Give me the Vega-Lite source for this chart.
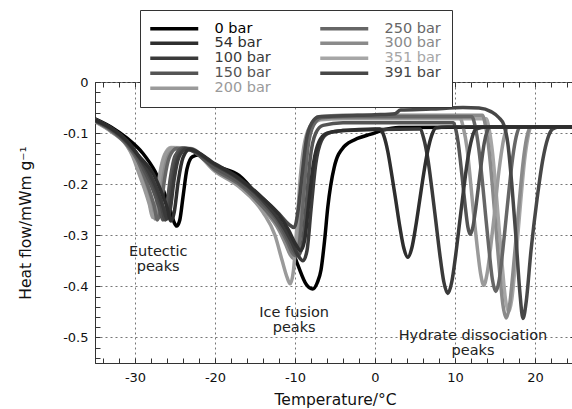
{
"$schema": "https://vega.github.io/schema/vega-lite/v6.json",
"width": 480, "height": 281,
"autosize": {"type": "none"},
"padding": {"left": 95, "top": 82, "right": 0, "bottom": 46},
"background": "white",
"config": {"view": {"stroke": "#333", "strokeWidth": 1}, "font": "DejaVu Sans"},
"resolve": {"axis": {"x": "independent", "y": "independent"}},
"data": {"values": [
{"p":"0 bar","t":-35,"h":-0.072},{"p":"0 bar","t":-33,"h":-0.088},{"p":"0 bar","t":-31,"h":-0.11},{"p":"0 bar","t":-29,"h":-0.14},{"p":"0 bar","t":-27.5,"h":-0.175},{"p":"0 bar","t":-26.5,"h":-0.21},{"p":"0 bar","t":-25.6,"h":-0.25},{"p":"0 bar","t":-25.1,"h":-0.275},{"p":"0 bar","t":-24.8,"h":-0.282},{"p":"0 bar","t":-24.4,"h":-0.27},{"p":"0 bar","t":-24,"h":-0.225},{"p":"0 bar","t":-23.5,"h":-0.17},{"p":"0 bar","t":-22.8,"h":-0.146},{"p":"0 bar","t":-22,"h":-0.143},{"p":"0 bar","t":-20,"h":-0.163},{"p":"0 bar","t":-17,"h":-0.183},{"p":"0 bar","t":-14,"h":-0.237},{"p":"0 bar","t":-12,"h":-0.283},{"p":"0 bar","t":-10.5,"h":-0.323},{"p":"0 bar","t":-9.6,"h":-0.36},{"p":"0 bar","t":-8.6,"h":-0.396},{"p":"0 bar","t":-7.8,"h":-0.405},{"p":"0 bar","t":-7.2,"h":-0.392},{"p":"0 bar","t":-6.75,"h":-0.368},{"p":"0 bar","t":-6.3,"h":-0.31},{"p":"0 bar","t":-5.9,"h":-0.245},{"p":"0 bar","t":-5.1,"h":-0.167},{"p":"0 bar","t":-3.9,"h":-0.127},{"p":"0 bar","t":-2.1,"h":-0.11},{"p":"0 bar","t":-0.5,"h":-0.102},{"p":"0 bar","t":1,"h":-0.094},{"p":"0 bar","t":3,"h":-0.089},{"p":"0 bar","t":25,"h":-0.088},
{"p":"351 bar","t":-35,"h":-0.074},{"p":"351 bar","t":-33,"h":-0.093},{"p":"351 bar","t":-31,"h":-0.12},{"p":"351 bar","t":-30.2,"h":-0.142},{"p":"351 bar","t":-29.5,"h":-0.172},{"p":"351 bar","t":-28.8,"h":-0.205},{"p":"351 bar","t":-28.2,"h":-0.235},{"p":"351 bar","t":-27.8,"h":-0.26},{"p":"351 bar","t":-27.4,"h":-0.24},{"p":"351 bar","t":-26.9,"h":-0.18},{"p":"351 bar","t":-26.3,"h":-0.142},{"p":"351 bar","t":-25.5,"h":-0.128},{"p":"351 bar","t":-23,"h":-0.13},{"p":"351 bar","t":-20,"h":-0.17},{"p":"351 bar","t":-17,"h":-0.198},{"p":"351 bar","t":-14,"h":-0.242},{"p":"351 bar","t":-12,"h":-0.28},{"p":"351 bar","t":-10.9,"h":-0.315},{"p":"351 bar","t":-10.4,"h":-0.33},{"p":"351 bar","t":-10,"h":-0.335},{"p":"351 bar","t":-9.5,"h":-0.3},{"p":"351 bar","t":-9,"h":-0.21},{"p":"351 bar","t":-8.5,"h":-0.125},{"p":"351 bar","t":-7.8,"h":-0.085},{"p":"351 bar","t":-6.8,"h":-0.074},{"p":"351 bar","t":-4,"h":-0.072},{"p":"351 bar","t":13.9,"h":-0.072},{"p":"351 bar","t":14.3,"h":-0.095},{"p":"351 bar","t":14.7,"h":-0.14},{"p":"351 bar","t":15.1,"h":-0.208},{"p":"351 bar","t":15.5,"h":-0.284},{"p":"351 bar","t":15.9,"h":-0.359},{"p":"351 bar","t":16.3,"h":-0.424},{"p":"351 bar","t":16.7,"h":-0.45},{"p":"351 bar","t":17.1,"h":-0.425},{"p":"351 bar","t":17.5,"h":-0.363},{"p":"351 bar","t":17.9,"h":-0.291},{"p":"351 bar","t":18.3,"h":-0.218},{"p":"351 bar","t":18.7,"h":-0.153},{"p":"351 bar","t":19.1,"h":-0.11},{"p":"351 bar","t":19.5,"h":-0.088},{"p":"351 bar","t":25,"h":-0.088},
{"p":"300 bar","t":-35,"h":-0.077},{"p":"300 bar","t":-33,"h":-0.096},{"p":"300 bar","t":-31,"h":-0.124},{"p":"300 bar","t":-30.1,"h":-0.148},{"p":"300 bar","t":-29.3,"h":-0.178},{"p":"300 bar","t":-28.5,"h":-0.212},{"p":"300 bar","t":-27.9,"h":-0.243},{"p":"300 bar","t":-27.5,"h":-0.268},{"p":"300 bar","t":-27.1,"h":-0.248},{"p":"300 bar","t":-26.6,"h":-0.188},{"p":"300 bar","t":-26,"h":-0.146},{"p":"300 bar","t":-25.2,"h":-0.13},{"p":"300 bar","t":-23,"h":-0.132},{"p":"300 bar","t":-20,"h":-0.173},{"p":"300 bar","t":-17,"h":-0.202},{"p":"300 bar","t":-14,"h":-0.248},{"p":"300 bar","t":-12,"h":-0.29},{"p":"300 bar","t":-11.1,"h":-0.32},{"p":"300 bar","t":-10.6,"h":-0.338},{"p":"300 bar","t":-10.2,"h":-0.345},{"p":"300 bar","t":-9.7,"h":-0.315},{"p":"300 bar","t":-9.2,"h":-0.225},{"p":"300 bar","t":-8.7,"h":-0.135},{"p":"300 bar","t":-8,"h":-0.085},{"p":"300 bar","t":-7,"h":-0.068},{"p":"300 bar","t":-4,"h":-0.065},{"p":"300 bar","t":13.42,"h":-0.065},{"p":"300 bar","t":13.85,"h":-0.089},{"p":"300 bar","t":14.27,"h":-0.136},{"p":"300 bar","t":14.7,"h":-0.208},{"p":"300 bar","t":15.12,"h":-0.287},{"p":"300 bar","t":15.55,"h":-0.367},{"p":"300 bar","t":15.97,"h":-0.434},{"p":"300 bar","t":16.4,"h":-0.462},{"p":"300 bar","t":16.83,"h":-0.436},{"p":"300 bar","t":17.25,"h":-0.372},{"p":"300 bar","t":17.68,"h":-0.297},{"p":"300 bar","t":18.1,"h":-0.223},{"p":"300 bar","t":18.53,"h":-0.155},{"p":"300 bar","t":18.95,"h":-0.11},{"p":"300 bar","t":19.4,"h":-0.088},{"p":"300 bar","t":25,"h":-0.088},
{"p":"200 bar","t":-35,"h":-0.078},{"p":"200 bar","t":-33,"h":-0.097},{"p":"200 bar","t":-31,"h":-0.125},{"p":"200 bar","t":-30.3,"h":-0.145},{"p":"200 bar","t":-29.6,"h":-0.175},{"p":"200 bar","t":-28.8,"h":-0.21},{"p":"200 bar","t":-28.2,"h":-0.24},{"p":"200 bar","t":-27.8,"h":-0.265},{"p":"200 bar","t":-27.4,"h":-0.245},{"p":"200 bar","t":-26.9,"h":-0.185},{"p":"200 bar","t":-26.3,"h":-0.145},{"p":"200 bar","t":-25.5,"h":-0.13},{"p":"200 bar","t":-23,"h":-0.133},{"p":"200 bar","t":-20,"h":-0.175},{"p":"200 bar","t":-17,"h":-0.205},{"p":"200 bar","t":-14,"h":-0.255},{"p":"200 bar","t":-12.5,"h":-0.3},{"p":"200 bar","t":-11.6,"h":-0.35},{"p":"200 bar","t":-11,"h":-0.382},{"p":"200 bar","t":-10.6,"h":-0.395},{"p":"200 bar","t":-10.2,"h":-0.37},{"p":"200 bar","t":-9.8,"h":-0.29},{"p":"200 bar","t":-9.3,"h":-0.18},{"p":"200 bar","t":-8.6,"h":-0.105},{"p":"200 bar","t":-7.6,"h":-0.078},{"p":"200 bar","t":-6,"h":-0.071},{"p":"200 bar","t":10.6,"h":-0.07},{"p":"200 bar","t":11.05,"h":-0.09},{"p":"200 bar","t":11.5,"h":-0.129},{"p":"200 bar","t":11.9,"h":-0.188},{"p":"200 bar","t":12.3,"h":-0.254},{"p":"200 bar","t":12.75,"h":-0.319},{"p":"200 bar","t":13.2,"h":-0.375},{"p":"200 bar","t":13.6,"h":-0.398},{"p":"200 bar","t":14,"h":-0.376},{"p":"200 bar","t":14.45,"h":-0.324},{"p":"200 bar","t":14.9,"h":-0.262},{"p":"200 bar","t":15.3,"h":-0.2},{"p":"200 bar","t":15.75,"h":-0.144},{"p":"200 bar","t":16.15,"h":-0.107},{"p":"200 bar","t":16.6,"h":-0.088},{"p":"200 bar","t":25,"h":-0.088},
{"p":"250 bar","t":-35,"h":-0.076},{"p":"250 bar","t":-33,"h":-0.095},{"p":"250 bar","t":-31,"h":-0.123},{"p":"250 bar","t":-29.8,"h":-0.15},{"p":"250 bar","t":-29,"h":-0.178},{"p":"250 bar","t":-28.2,"h":-0.212},{"p":"250 bar","t":-27.6,"h":-0.243},{"p":"250 bar","t":-27.2,"h":-0.27},{"p":"250 bar","t":-26.8,"h":-0.25},{"p":"250 bar","t":-26.3,"h":-0.19},{"p":"250 bar","t":-25.7,"h":-0.147},{"p":"250 bar","t":-24.8,"h":-0.13},{"p":"250 bar","t":-23,"h":-0.131},{"p":"250 bar","t":-20,"h":-0.172},{"p":"250 bar","t":-17,"h":-0.2},{"p":"250 bar","t":-14,"h":-0.245},{"p":"250 bar","t":-12,"h":-0.283},{"p":"250 bar","t":-10.9,"h":-0.315},{"p":"250 bar","t":-10.3,"h":-0.335},{"p":"250 bar","t":-9.9,"h":-0.34},{"p":"250 bar","t":-9.4,"h":-0.31},{"p":"250 bar","t":-8.9,"h":-0.22},{"p":"250 bar","t":-8.4,"h":-0.13},{"p":"250 bar","t":-7.7,"h":-0.085},{"p":"250 bar","t":-6.7,"h":-0.07},{"p":"250 bar","t":-4,"h":-0.068},{"p":"250 bar","t":12.1,"h":-0.068},{"p":"250 bar","t":12.55,"h":-0.089},{"p":"250 bar","t":12.97,"h":-0.13},{"p":"250 bar","t":13.4,"h":-0.191},{"p":"250 bar","t":13.82,"h":-0.26},{"p":"250 bar","t":14.25,"h":-0.328},{"p":"250 bar","t":14.67,"h":-0.386},{"p":"250 bar","t":15.1,"h":-0.41},{"p":"250 bar","t":15.53,"h":-0.387},{"p":"250 bar","t":15.95,"h":-0.333},{"p":"250 bar","t":16.38,"h":-0.268},{"p":"250 bar","t":16.8,"h":-0.204},{"p":"250 bar","t":17.23,"h":-0.146},{"p":"250 bar","t":17.65,"h":-0.107},{"p":"250 bar","t":18.1,"h":-0.088},{"p":"250 bar","t":25,"h":-0.088},
{"p":"150 bar","t":-35,"h":-0.076},{"p":"150 bar","t":-33,"h":-0.093},{"p":"150 bar","t":-31,"h":-0.12},{"p":"150 bar","t":-30,"h":-0.14},{"p":"150 bar","t":-28.7,"h":-0.178},{"p":"150 bar","t":-27.7,"h":-0.213},{"p":"150 bar","t":-27,"h":-0.245},{"p":"150 bar","t":-26.5,"h":-0.27},{"p":"150 bar","t":-26.1,"h":-0.252},{"p":"150 bar","t":-25.6,"h":-0.19},{"p":"150 bar","t":-25,"h":-0.145},{"p":"150 bar","t":-24,"h":-0.129},{"p":"150 bar","t":-20,"h":-0.168},{"p":"150 bar","t":-17,"h":-0.196},{"p":"150 bar","t":-14,"h":-0.238},{"p":"150 bar","t":-12,"h":-0.275},{"p":"150 bar","t":-10.8,"h":-0.31},{"p":"150 bar","t":-10.1,"h":-0.332},{"p":"150 bar","t":-9.6,"h":-0.34},{"p":"150 bar","t":-9.1,"h":-0.32},{"p":"150 bar","t":-8.6,"h":-0.24},{"p":"150 bar","t":-8.1,"h":-0.15},{"p":"150 bar","t":-7.4,"h":-0.1},{"p":"150 bar","t":-6.5,"h":-0.085},{"p":"150 bar","t":-4,"h":-0.08},{"p":"150 bar","t":9.8,"h":-0.08},{"p":"150 bar","t":10.1,"h":-0.093},{"p":"150 bar","t":10.4,"h":-0.119},{"p":"150 bar","t":10.7,"h":-0.158},{"p":"150 bar","t":11,"h":-0.202},{"p":"150 bar","t":11.3,"h":-0.246},{"p":"150 bar","t":11.6,"h":-0.283},{"p":"150 bar","t":11.9,"h":-0.298},{"p":"150 bar","t":12.25,"h":-0.283},{"p":"150 bar","t":12.6,"h":-0.246},{"p":"150 bar","t":12.95,"h":-0.202},{"p":"150 bar","t":13.3,"h":-0.158},{"p":"150 bar","t":13.65,"h":-0.12},{"p":"150 bar","t":14,"h":-0.097},{"p":"150 bar","t":14.4,"h":-0.088},{"p":"150 bar","t":25,"h":-0.088},
{"p":"391 bar","t":-35,"h":-0.073},{"p":"391 bar","t":-33,"h":-0.09},{"p":"391 bar","t":-31,"h":-0.116},{"p":"391 bar","t":-29.8,"h":-0.14},{"p":"391 bar","t":-28.4,"h":-0.178},{"p":"391 bar","t":-27.4,"h":-0.212},{"p":"391 bar","t":-26.7,"h":-0.243},{"p":"391 bar","t":-26.2,"h":-0.27},{"p":"391 bar","t":-25.8,"h":-0.25},{"p":"391 bar","t":-25.3,"h":-0.19},{"p":"391 bar","t":-24.7,"h":-0.147},{"p":"391 bar","t":-23.8,"h":-0.13},{"p":"391 bar","t":-20,"h":-0.162},{"p":"391 bar","t":-17,"h":-0.19},{"p":"391 bar","t":-14,"h":-0.228},{"p":"391 bar","t":-12,"h":-0.258},{"p":"391 bar","t":-10.8,"h":-0.278},{"p":"391 bar","t":-10.1,"h":-0.285},{"p":"391 bar","t":-9.6,"h":-0.25},{"p":"391 bar","t":-9.1,"h":-0.18},{"p":"391 bar","t":-8.6,"h":-0.115},{"p":"391 bar","t":-7.9,"h":-0.08},{"p":"391 bar","t":-7,"h":-0.068},{"p":"391 bar","t":-4,"h":-0.066},{"p":"391 bar","t":0,"h":-0.064},{"p":"391 bar","t":2.5,"h":-0.062},{"p":"391 bar","t":3.2,"h":-0.055},{"p":"391 bar","t":7,"h":-0.053},{"p":"391 bar","t":11,"h":-0.05},{"p":"391 bar","t":13,"h":-0.051},{"p":"391 bar","t":14.5,"h":-0.058},{"p":"391 bar","t":15.5,"h":-0.07},{"p":"391 bar","t":16.1,"h":-0.084},{"p":"391 bar","t":16.6,"h":-0.12},{"p":"391 bar","t":17.1,"h":-0.2},{"p":"391 bar","t":17.6,"h":-0.3},{"p":"391 bar","t":18.1,"h":-0.41},{"p":"391 bar","t":18.5,"h":-0.463},{"p":"391 bar","t":18.9,"h":-0.43},{"p":"391 bar","t":19.5,"h":-0.33},{"p":"391 bar","t":20.25,"h":-0.23},{"p":"391 bar","t":21,"h":-0.15},{"p":"391 bar","t":21.6,"h":-0.11},{"p":"391 bar","t":22.2,"h":-0.092},{"p":"391 bar","t":23,"h":-0.088},{"p":"391 bar","t":25,"h":-0.088},
{"p":"100 bar","t":-35,"h":-0.075},{"p":"100 bar","t":-33,"h":-0.091},{"p":"100 bar","t":-31,"h":-0.117},{"p":"100 bar","t":-29.8,"h":-0.14},{"p":"100 bar","t":-28.2,"h":-0.178},{"p":"100 bar","t":-27.2,"h":-0.212},{"p":"100 bar","t":-26.5,"h":-0.243},{"p":"100 bar","t":-26,"h":-0.268},{"p":"100 bar","t":-25.6,"h":-0.25},{"p":"100 bar","t":-25.1,"h":-0.19},{"p":"100 bar","t":-24.5,"h":-0.147},{"p":"100 bar","t":-23.5,"h":-0.13},{"p":"100 bar","t":-20,"h":-0.162},{"p":"100 bar","t":-17,"h":-0.19},{"p":"100 bar","t":-14,"h":-0.232},{"p":"100 bar","t":-12,"h":-0.27},{"p":"100 bar","t":-10.5,"h":-0.31},{"p":"100 bar","t":-9.6,"h":-0.34},{"p":"100 bar","t":-9,"h":-0.35},{"p":"100 bar","t":-8.5,"h":-0.33},{"p":"100 bar","t":-8,"h":-0.25},{"p":"100 bar","t":-7.4,"h":-0.16},{"p":"100 bar","t":-6.7,"h":-0.115},{"p":"100 bar","t":-5.8,"h":-0.1},{"p":"100 bar","t":-4,"h":-0.095},{"p":"100 bar","t":0,"h":-0.093},{"p":"100 bar","t":5.6,"h":-0.092},{"p":"100 bar","t":6.1,"h":-0.111},{"p":"100 bar","t":6.6,"h":-0.15},{"p":"100 bar","t":7.1,"h":-0.208},{"p":"100 bar","t":7.6,"h":-0.272},{"p":"100 bar","t":8.1,"h":-0.337},{"p":"100 bar","t":8.6,"h":-0.391},{"p":"100 bar","t":9.1,"h":-0.414},{"p":"100 bar","t":9.6,"h":-0.391},{"p":"100 bar","t":10.1,"h":-0.337},{"p":"100 bar","t":10.6,"h":-0.272},{"p":"100 bar","t":11.1,"h":-0.208},{"p":"100 bar","t":11.6,"h":-0.15},{"p":"100 bar","t":12.1,"h":-0.111},{"p":"100 bar","t":12.6,"h":-0.092},{"p":"100 bar","t":14,"h":-0.088},{"p":"100 bar","t":25,"h":-0.088},
{"p":"54 bar","t":-35,"h":-0.074},{"p":"54 bar","t":-33,"h":-0.09},{"p":"54 bar","t":-31,"h":-0.115},{"p":"54 bar","t":-29.5,"h":-0.145},{"p":"54 bar","t":-27.7,"h":-0.18},{"p":"54 bar","t":-26.7,"h":-0.215},{"p":"54 bar","t":-26,"h":-0.245},{"p":"54 bar","t":-25.5,"h":-0.272},{"p":"54 bar","t":-25.1,"h":-0.255},{"p":"54 bar","t":-24.6,"h":-0.195},{"p":"54 bar","t":-24,"h":-0.148},{"p":"54 bar","t":-23.2,"h":-0.132},{"p":"54 bar","t":-20,"h":-0.16},{"p":"54 bar","t":-17,"h":-0.188},{"p":"54 bar","t":-14,"h":-0.228},{"p":"54 bar","t":-12,"h":-0.26},{"p":"54 bar","t":-10.8,"h":-0.29},{"p":"54 bar","t":-9.9,"h":-0.318},{"p":"54 bar","t":-9.3,"h":-0.33},{"p":"54 bar","t":-8.8,"h":-0.31},{"p":"54 bar","t":-8.3,"h":-0.24},{"p":"54 bar","t":-7.7,"h":-0.16},{"p":"54 bar","t":-7,"h":-0.117},{"p":"54 bar","t":-6,"h":-0.1},{"p":"54 bar","t":-4,"h":-0.095},{"p":"54 bar","t":0,"h":-0.092},{"p":"54 bar","t":0.6,"h":-0.092},{"p":"54 bar","t":1.1,"h":-0.105},{"p":"54 bar","t":1.6,"h":-0.136},{"p":"54 bar","t":2.1,"h":-0.182},{"p":"54 bar","t":2.6,"h":-0.232},{"p":"54 bar","t":3.1,"h":-0.283},{"p":"54 bar","t":3.6,"h":-0.325},{"p":"54 bar","t":4.1,"h":-0.343},{"p":"54 bar","t":4.6,"h":-0.325},{"p":"54 bar","t":5.1,"h":-0.282},{"p":"54 bar","t":5.6,"h":-0.23},{"p":"54 bar","t":6.1,"h":-0.178},{"p":"54 bar","t":6.6,"h":-0.134},{"p":"54 bar","t":7.1,"h":-0.104},{"p":"54 bar","t":7.6,"h":-0.09},{"p":"54 bar","t":9,"h":-0.088},{"p":"54 bar","t":25,"h":-0.088}
]},
"layer": [
{"mark": {"type": "line", "interpolate": "monotone", "clip": true},
 "encoding": {
  "x": {"field": "t", "type": "quantitative",
        "scale": {"domain": [-35, 25], "nice": false, "zero": false},
        "axis": {"title": "Temperature/°C",
                 "values": [-34,-32,-30,-28,-26,-24,-22,-20,-18,-16,-14,-12,-10,-8,-6,-4,-2,0,2,4,6,8,10,12,14,16,18,20,22,24],
                 "tickCount": 200,
                 "labelExpr": "datum.value % 10 === 0 ? '' + datum.value : ''",
                 "labelOverlap": false, "labelFlush": false,
                 "tickSize": -5, "tickColor": "#333", "labelPadding": 13,
                 "labelFontSize": 13, "labelColor": "#111",
                 "titleFontSize": 15.5, "titleFontWeight": "normal", "titleColor": "#111", "titlePadding": 8,
                 "grid": true, "gridDash": [2, 3], "gridColor": "#777",
                 "gridOpacity": {"condition": {"test": "datum.value % 10 === 0", "value": 1}, "value": 0},
                 "domainColor": "#333"}},
  "y": {"field": "h", "type": "quantitative",
        "scale": {"domain": [-0.55, 0], "nice": false, "zero": false},
        "axis": {"title": "Heat flow/mWm g⁻¹",
                 "values": [0,-0.02,-0.04,-0.06,-0.08,-0.1,-0.12,-0.14,-0.16,-0.18,-0.2,-0.22,-0.24,-0.26,-0.28,-0.3,-0.32,-0.34,-0.36,-0.38,-0.4,-0.42,-0.44,-0.46,-0.48,-0.5,-0.52,-0.54],
                 "tickCount": 200,
                 "labelExpr": "abs(datum.value*10 - round(datum.value*10)) < 0.001 ? '' + (round(datum.value*10)/10) : ''",
                 "labelOverlap": false, "labelFlush": false,
                 "tickSize": -5, "tickColor": "#333", "labelPadding": 12,
                 "labelFontSize": 13, "labelColor": "#111",
                 "titleFontSize": 15.5, "titleFontWeight": "normal", "titleColor": "#111", "titlePadding": 29,
                 "grid": true, "gridDash": [2, 3], "gridColor": "#777",
                 "gridOpacity": {"condition": {"test": "abs(datum.value*10 - round(datum.value*10)) < 0.001", "value": 1}, "value": 0},
                 "domainColor": "#333"}},
  "color": {"field": "p", "type": "nominal",
            "scale": {"domain": ["0 bar","54 bar","100 bar","150 bar","200 bar","250 bar","300 bar","351 bar","391 bar"],
                      "range": ["#000000","#2e2e2e","#3a3a3a","#545454","#9a9a9a","#666666","#8a8a8a","#a6a6a6","#474747"]},
            "legend": {"title": null, "orient": "none", "legendX": 45, "legendY": -72, "columns": 2,
                       "symbolType": "M-6,0H6", "symbolSize": 64, "symbolOffset": 16, "symbolStrokeWidth": 3.5, "symbolOpacity": 1,
                       "labelFontSize": 14.5, "labelOffset": 33, "labelAlign": "left", "columnPadding": 42, "rowPadding": -1,
                       "padding": 11, "strokeColor": "#333", "fillColor": "white",
                       "encode": {"labels": {"update": {"fill": {"scale": "color", "field": "value"}}},
                                  "symbols": {"update": {"strokeWidth": {"signal": "datum.value === '351 bar' || datum.value === '391 bar' ? 2.2 : 3.5"}}}}}},
  "strokeWidth": {"field": "p", "type": "ordinal",
                  "scale": {"domain": ["0 bar","54 bar","100 bar","150 bar","200 bar","250 bar","300 bar","351 bar","391 bar"],
                            "range": [3.5,3.5,3.5,3.5,3.5,3.5,3.5,2.2,2.2]},
                  "legend": null}
 }},
{"data": {"values": [
  {"label": ["Eutectic", "peaks"], "t": -27.1, "h": -0.333},
  {"label": ["Ice fusion", "peaks"], "t": -10.1, "h": -0.452},
  {"label": ["Hydrate dissociation", "peaks"], "t": 12.25, "h": -0.497}
 ]},
 "mark": {"type": "text", "fontSize": 14.5, "lineHeight": 15, "align": "center", "baseline": "middle", "color": "#222"},
 "encoding": {
  "x": {"field": "t", "type": "quantitative",
        "axis": {"orient": "top", "title": null, "labels": false, "grid": false, "domain": false,
                 "values": [-34,-32,-30,-28,-26,-24,-22,-20,-18,-16,-14,-12,-10,-8,-6,-4,-2,0,2,4,6,8,10,12,14,16,18,20,22,24],
                 "tickCount": 200, "tickSize": -5, "tickColor": "#333"}},
  "y": {"field": "h", "type": "quantitative",
        "axis": {"orient": "right", "title": null, "labels": false, "grid": false, "domain": false,
                 "values": [0,-0.1,-0.2,-0.3,-0.4,-0.5],
                 "tickCount": 200, "tickSize": -5, "tickColor": "#333"}},
  "text": {"field": "label"}}}
]
}
